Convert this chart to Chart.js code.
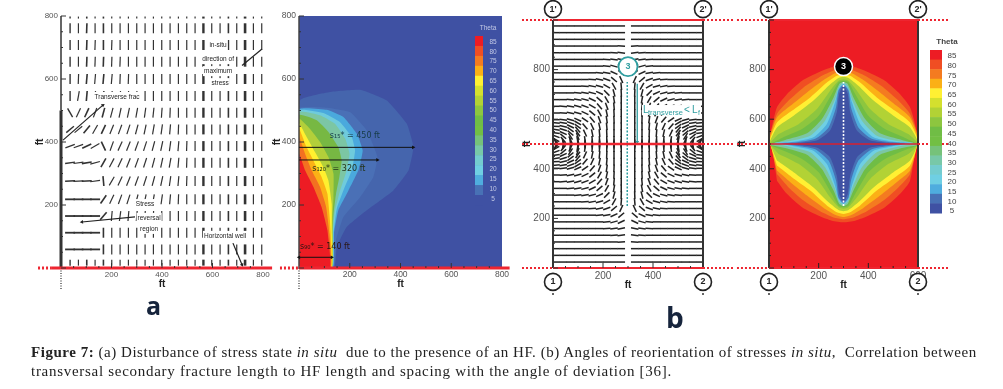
<!DOCTYPE html>
<html>
<head>
<meta charset="utf-8">
<title>Figure 7</title>
<script src="https://cdn.jsdelivr.net/npm/chart.js@4"></script>
<style>
  html, body { margin: 0; padding: 0; background: #fff; }
  body { width: 1003px; height: 389px; position: relative; overflow: hidden; }
  canvas { position: absolute; left: 0; top: 0; filter: blur(0.45px); }
  .tag { position: absolute; font: bold 25px "Open Sans", sans-serif; color: #16243c; filter: blur(0.4px); }
  .cap { position: absolute; left: 31px; white-space: nowrap; font: 15px "Liberation Serif", serif; color: #222; }
</style>
</head>
<body>
<canvas id="panelA" width="1003" height="389"></canvas>
<canvas id="panelB" width="1003" height="389"></canvas>
<canvas id="panelC" width="1003" height="389"></canvas>
<canvas id="panelD" width="1003" height="389"></canvas>
<div class="tag" style="left:146px;top:288px">a</div>
<div class="tag" style="left:666px;top:298px;font-size:28px">b</div>
<div class="cap" style="top:344px;letter-spacing:.53px"><b>Figure 7:</b> (a) Disturbance of stress state <i>in situ</i>&nbsp; due to the presence of an HF. (b) Angles of reorientation of stresses <i>in situ</i>,&nbsp; Correlation between</div>
<div class="cap" style="top:363px;letter-spacing:.71px">transversal secondary fracture length to HF length and spacing with the angle of deviation [36].</div>

<script>
// ---------- DATA ----------
const thetaLabels = [85,80,75,70,65,60,55,50,45,40,35,30,25,20,15,10,5];
const thetaColors = ["#ed1c24","#f04e23","#f47b20","#fbb016","#fff033","#d4e02e","#b2d235","#8dc63f","#70bd45","#72bf44","#76c27a","#78c8a8","#74cccf","#6fcfe3","#4fadde","#4871b5","#3f51a3"];

const ticksAB = [200,400,600,800];
const xTicksC = [200,400];
const xTicksD = [200,400,600];

// panel a: stress direction field, degrees from horizontal, omitted tail = vertical
const fieldColsA = [36,69,102,135,168,201,234,267,300,333,366,399,432,465,498,531,564,597,630,663,696,729,762,795];
const fieldRowsA = [795,761,708,655,600,546,493,440,387,334,276,218,165,112,59,17];
const fieldAnglesA = [
  [],
  [90,90,88],
  [90,90,88,88,90,88],
  [90,90,88,88,88,88,88],
  [90,88,85,85,85,85,88,88],
  [90,80,85,85,85,85,85,88,88],
  [120,65,65,70,75,75,78,78,80,82,84,86,88],
  [40,40,50,60,65,68,70,72,75,78,80,82,85,88],
  [20,20,25,30,115,70,65,68,70,72,75,78,82,85,88],
  [8,8,10,15,60,62,65,68,70,72,75,78,80,85,88],
  [3,3,3,8,95,60,65,68,70,72,75,78,82,85,88],
  [0,0,0,0,55,65,70,72,75,78,80,82,85,88],
  [0,0,0,0,50,85,82,85,85,88,88],
  [0,0,0,0,90],
  [0,0,0,0,90],
  []
];
const fieldRadiusA = [1,5,5,5,5,5,5,5,5,5,5,5,5,5,5,3];
const fieldWidthA = [1.4,1.2,1.6,1.2,1.6,1.2,1.2,1.2,1.2,1.2,1.2,1.2,1.2,1.2,1.2,1.2,2.4,1.2,1.2,1.6,1.2,2.6,1.2,1.2];

// panel b: contour outlines for the fracture at the left edge, outer to inner
const contoursB = [
  { color:"#4565ad", xs:[0,4,122,241,346,425,451,432,372,267,188,149,138,0], ys:[0,532,559,566,532,458,384,310,246,183,130,67,0,0] },
  { color:"#4a70b6", xs:[0,0,109,201,267,309,293,241,175,146,136,0], ys:[0,506,509,495,437,352,289,225,162,88,0,0] },
  { color:"#4aa9dd", xs:[0,0,109,175,228,251,234,195,155,138,133,0], ys:[0,503,502,479,426,373,310,246,183,109,0,0] },
  { color:"#6fcbdc", xs:[0,0,96,162,208,221,208,178,149,136,132,0], ys:[0,500,492,463,416,373,310,252,188,109,0,0] },
  { color:"#7cc6a4", xs:[0,0,83,142,182,199,186,162,142,133,131,0], ys:[0,495,485,458,411,363,305,246,183,109,0,0] },
  { color:"#77b843", xs:[0,0,70,116,155,168,159,146,136,130,129,0], ys:[0,485,469,432,384,342,289,236,172,88,0,0] },
  { color:"#b3cf3a", xs:[0,0,43,83,116,136,136,132,129,0], ys:[0,474,442,400,352,299,225,162,0,0] },
  { color:"#fff02f", xs:[0,0,30,63,96,116,129,129,128,0], ys:[0,458,416,368,320,278,204,109,0,0] },
  { color:"#fbb216", xs:[0,0,30,63,89,112,122,126,0], ys:[0,442,384,331,289,236,151,0,0] },
  { color:"#f37021", xs:[0,0,24,50,83,107,120,125,0], ys:[0,416,363,310,257,194,109,0,0] },
  { color:"#ed1c24", xs:[0,0,24,57,89,112,122,0], ys:[0,363,310,257,194,120,0,0] }
];

// panel c: upper left quarter of the field, degrees below horizontal; picture is symmetric
const fieldColsC = [12,41,70,99,128,157,186,215,244,273];
const fieldRowsC = [976,949,922,895,868,841,814,787,760,733,706,679,652,625,598,571,544,517,503];
const fieldAnglesC = [
  [0,0,0,0,0,0,0,0,0,0],
  [0,0,0,0,0,0,0,0,0,0],
  [0,0,0,0,0,0,0,0,0,0],
  [0,0,0,0,0,0,0,0,0,3],
  [0,0,0,0,0,0,0,0,3,6],
  [0,0,0,0,0,0,0,3,8,12],
  [0,0,0,0,0,0,0,5,15,25],
  [0,0,0,0,0,0,5,10,25,40],
  [0,0,0,0,0,5,10,20,40,65],
  [0,0,0,0,5,10,15,30,60,85],
  [0,0,0,5,10,15,25,45,75,88],
  [0,0,5,10,15,25,40,60,80,90],
  [0,5,10,15,20,30,50,70,85,90],
  [0,5,10,15,25,40,60,78,88,90],
  [0,8,15,25,35,50,70,82,88,90],
  [3,12,25,35,50,65,78,85,90,90],
  [8,25,40,55,65,78,85,88,90,90],
  [30,50,65,75,82,85,88,90,90,90],
  [70,80,85,88,90,90,90,90,90,90]
];
// the fan at the side walls is denser than the main grid
const fanRowsC = [585,558,531,510];
const fanAnglesC = [[5,10,20,30],[8,18,35,50],[20,40,58,70],[55,72,82,86]];

// panel d: upper left quarter of each contour, outer to inner
const contoursD = [
  { color:"#f04e23", xs:[5,32,72,133,200,253,300], ys:[540,648,701,755,789,809,816] },
  { color:"#f47b20", xs:[1,32,79,139,206,260,300], ys:[527,621,675,728,771,796,803] },
  { color:"#fbb016", xs:[1,32,86,153,220,266,300], ys:[520,607,654,708,758,785,794] },
  { color:"#fff033", xs:[1,32,92,166,233,273,300], ys:[513,587,634,688,748,775,782] },
  { color:"#b2d235", xs:[1,32,99,179,240,280,300], ys:[507,567,614,675,735,766,771] },
  { color:"#8dc63f", xs:[1,39,119,193,246,280,300], ys:[500,540,580,641,715,755,761] },
  { color:"#70bd45", xs:[1,52,133,200,253,280,300], ys:[497,524,560,614,702,749,755] },
  { color:"#7cc6a4", xs:[1,65,153,213,260,283,300], ys:[497,516,543,601,688,742,750] },
  { color:"#6fcfe3", xs:[19,86,166,226,264,283,300], ys:[504,512,533,594,675,731,745] },
  { color:"#4fadde", xs:[32,106,179,233,266,280,300], ys:[504,510,527,581,668,722,742] },
  { color:"#4871b5", xs:[52,119,186,240,270,280,300], ys:[502,508,521,567,648,715,739] },
  { color:"#3f51a3", xs:[79,133,197,246,273,283,300], ys:[501,505,516,554,628,702,735] }
];

const nodeXs = [0,600,0,600];
const nodeYs = [1044,1044,-56,-56];
const nodeLabels = ["1'","2'","1","2"];

// ---------- HELPERS ----------
const RED = "#ee2530";

function line(xs, ys, color, width, extra) {
  return Object.assign({
    data: xs.map((x, i) => ({ x, y: ys[i] })),
    showLine: true, borderColor: color, borderWidth: width,
    pointRadius: 0, clip: false, fill: false
  }, extra);
}

function arrow(x0, x1, y0, y1, color, width, atStart) {
  const deg = Math.atan2(-(y1 - y0), x1 - x0) * 180 / Math.PI;
  return line([x0, x1], [y0, y1], color, width, {
    pointStyle: "triangle",
    pointRadius: [atStart ? 2.2 : 0, 2.2],
    pointRotation: [deg - 90, deg + 90],
    pointBackgroundColor: color, pointBorderColor: color, pointBorderWidth: 0
  });
}

function area(xs, ys, color, tension) {
  return {
    data: xs.map((x, i) => ({ x, y: ys[i] })),
    showLine: true, fill: "shape", backgroundColor: color,
    borderWidth: 0, borderColor: color, pointRadius: 0, tension: tension
  };
}

// whole star from one quarter of it
function starFromQuarter(q) {
  const xs = [], ys = [];
  const n = q.xs.length;
  for (let i = 0; i < n; i++) { xs.push(q.xs[i]); ys.push(q.ys[i]); }
  for (let i = n - 2; i >= 0; i--) { xs.push(600 - q.xs[i]); ys.push(q.ys[i]); }
  for (let i = 1; i < n; i++) { xs.push(600 - q.xs[i]); ys.push(1000 - q.ys[i]); }
  for (let i = n - 2; i > 0; i--) { xs.push(q.xs[i]); ys.push(1000 - q.ys[i]); }
  return { xs, ys };
}

function fieldA() {
  const data = [], rot = [], rad = [], wid = [];
  fieldRowsA.forEach((y, r) => {
    fieldColsA.forEach((x, c) => {
      const a = fieldAnglesA[r][c];
      data.push({ x, y });
      rot.push(-(a === undefined ? 90 : a));
      rad.push(fieldRadiusA[r]);
      wid.push(a === 0 ? 1.8 : fieldWidthA[c]);
    });
  });
  return {
    data, showLine: false, pointStyle: "line", pointRotation: rot, pointRadius: rad,
    pointBorderWidth: wid, pointBorderColor: "#333", clip: false
  };
}

function fieldC() {
  const data = [], rot = [];
  const add = (rows, angles) => rows.forEach((y, r) => {
    angles[r].forEach((a, c) => {
      const x = fieldColsC[c];
      data.push({ x, y }); rot.push(a);
      data.push({ x: 600 - x, y }); rot.push(-a);
      data.push({ x, y: 1000 - y }); rot.push(-a);
      data.push({ x: 600 - x, y: 1000 - y }); rot.push(a);
    });
  });
  add(fieldRowsC, fieldAnglesC);
  add(fanRowsC, fanAnglesC);
  return {
    data, showLine: false, pointStyle: "line", pointRotation: rot, pointRadius: 3.8,
    pointBorderWidth: 1.5, pointBorderColor: "#222", clip: false
  };
}

const redDots = { borderDash: [2, 2] };

// numbered circles sit outside the plot, where Chart.js drops its points
function nodeRings() {
  const rings = nodeXs.map((x, i) => ({ x, y: nodeYs[i], r: 8.5, fill: "#fff", stroke: "#222", width: 1.6 }));
  rings.push({ x: 0, y: -105, r: 1, fill: "#333" }, { x: 600, y: -105, r: 1, fill: "#333" });
  return rings;
}
function nodeNotes() {
  return nodeXs.map((x, i) => ({ x, y: nodeYs[i], text: nodeLabels[i], font: "bold 9px 'Liberation Sans'" }));
}

// ---------- PLUGIN: inward ticks, plot colour, colour bar, rings, notes ----------
Chart.register({
  id: "panelExtras",
  beforeDatasetsDraw(chart, args, opts) {
    if (!opts.plotBg) return;
    const a = chart.chartArea;
    chart.ctx.fillStyle = opts.plotBg;
    chart.ctx.fillRect(a.left, a.top, a.width, a.height);
  },
  afterDatasetsDraw(chart, args, opts) {
    const ctx = chart.ctx, a = chart.chartArea;
    const sx = chart.scales.x, sy = chart.scales.y;
    ctx.save();

    ctx.strokeStyle = opts.tickColor || "#333";
    ctx.lineWidth = 1;
    sx.ticks.forEach(t => {
      if (t.value <= 0 || t.value >= sx.max) return;
      const len = t.value % 200 === 0 ? 5 : 2;
      const p = sx.getPixelForValue(t.value);
      ctx.beginPath(); ctx.moveTo(p, a.bottom); ctx.lineTo(p, a.bottom - len); ctx.stroke();
    });
    sy.ticks.forEach(t => {
      const len = t.value % 200 === 0 ? 5 : 2;
      const p = sy.getPixelForValue(t.value);
      ctx.beginPath(); ctx.moveTo(a.left, p); ctx.lineTo(a.left + len, p); ctx.stroke();
    });

    if (opts.bar) {
      const b = opts.bar, h = (b.bottom - b.top) / thetaColors.length;
      thetaColors.forEach((c, i) => {
        ctx.fillStyle = c;
        ctx.fillRect(b.left, b.top + i * h, b.right - b.left, h + 0.5);
      });
      ctx.textAlign = "center"; ctx.textBaseline = "middle";
      ctx.fillStyle = b.color;
      ctx.font = b.font;
      thetaLabels.forEach((v, i) => ctx.fillText(String(v), b.labelX, b.firstY + i * b.stepY));
      ctx.font = b.titleFont;
      ctx.fillText("Theta", b.titleX, b.titleY);
    }

    (opts.rings || []).forEach(r => {
      ctx.beginPath();
      ctx.arc(sx.getPixelForValue(r.x), sy.getPixelForValue(r.y), r.r, 0, Math.PI * 2);
      ctx.fillStyle = r.fill;
      ctx.fill();
      if (r.stroke) { ctx.strokeStyle = r.stroke; ctx.lineWidth = r.width; ctx.stroke(); }
    });

    (opts.notes || []).forEach(n => {
      const px = sx.getPixelForValue(n.x), py = sy.getPixelForValue(n.y);
      ctx.font = n.font;
      ctx.textAlign = n.align || "center"; ctx.textBaseline = "middle";
      if (n.bg) {
        const w = n.bgWidth || ctx.measureText(n.text).width;
        const left = n.align === "left" ? px : px - w / 2;
        ctx.fillStyle = n.bg;
        ctx.fillRect(left - 1, py - 5, w + 2, 10);
      }
      ctx.fillStyle = n.color || "#222";
      ctx.fillText(n.text, px, py);
    });
    ctx.restore();
  }
});

function panel(id, box, xMax, yMax, xTicks, yTicks, tickFont, datasets, extras) {
  const tickColor = "#555";
  const labelled = list => v => list.includes(v) ? String(v) : "";
  const painted = datasets.slice().reverse();  // first dataset is drawn last by Chart.js
  return new Chart(document.getElementById(id), {
    type: "scatter",
    data: { datasets: painted },
    options: {
      responsive: false, animation: false, events: [],
      layout: { padding: { left: box.axisLeft, top: box.top, right: 1003 - box.right, bottom: 389 - box.axisBottom } },
      plugins: { legend: { display: false }, tooltip: { enabled: false }, panelExtras: extras },
      scales: {
        x: {
          type: "linear", min: 0, max: xMax,
          grid: { display: false, drawTicks: false }, border: { display: false },
          ticks: { stepSize: 50, autoSkip: false, maxRotation: 0, padding: 2, color: tickColor, font: { size: tickFont, family: "Liberation Sans" }, callback: labelled(xTicks) },
          title: { display: true, text: "ft", color: "#222", padding: 0, font: { size: 10, weight: "bold", family: "Liberation Sans" } },
          afterFit(s) { s.height = box.axisBottom - box.bottom; }
        },
        y: {
          type: "linear", min: 0, max: yMax,
          grid: { display: false, drawTicks: false }, border: { display: false },
          ticks: { stepSize: 50, autoSkip: false, padding: 3, color: tickColor, font: { size: tickFont, family: "Liberation Sans" }, callback: labelled(yTicks) },
          title: { display: true, text: "ft", color: "#222", padding: 0, font: { size: 10, weight: "bold", family: "Liberation Sans" } },
          afterFit(s) { s.width = box.left - box.axisLeft; }
        }
      }
    }
  });
}

// ---------- PANELS ----------
const noteFont = "6.5px 'Liberation Sans'";
panel("panelA", { axisLeft: 34, left: 61, top: 16, right: 263, bottom: 268, axisBottom: 290 }, 800, 800, ticksAB, ticksAB, 8, [
  fieldA(),
  line([0, 0], [500, 800], "#666", 2),
  line([0, 0], [0, 500], "#333", 3),
  line([0, 0], [0, -70], "#555", 1.5, { borderDash: [1, 1.5] }),
  arrow(8, 166, 406, 517, "#222", 1.2),
  line([717, 796], [643, 695], "#222", 1.2),
  arrow(293, 83, 162, 146, "#222", 1.2),
  arrow(681, 717, 79, 10, "#222", 1.2),
  line([-91, -36], [0, 0], RED, 3, redDots),
  line([-36, 836], [0, 0], RED, 3)
], { notes: [
  { x: 222, y: 543, text: "Transverse frac", font: noteFont, bg: "#fff" },
  { x: 622, y: 708, text: "in-situ", font: noteFont, bg: "#fff" },
  { x: 622, y: 663, text: "direction of", font: noteFont, bg: "#fff" },
  { x: 622, y: 625, text: "maximum", font: noteFont, bg: "#fff" },
  { x: 630, y: 587, text: "stress", font: noteFont, bg: "#fff" },
  { x: 333, y: 203, text: "Stress", font: noteFont, bg: "#fff" },
  { x: 349, y: 159, text: "reversal", font: noteFont, bg: "#fff" },
  { x: 349, y: 124, text: "region", font: noteFont, bg: "#fff" },
  { x: 650, y: 102, text: "Horizontal well", font: noteFont, bg: "#fff" }
] });

const sFont = "8px 'DejaVu Sans'";
panel("panelB", { axisLeft: 271, left: 299, top: 16, right: 502, bottom: 268, axisBottom: 290 }, 800, 800, ticksAB, ticksAB, 8.5,
  contoursB.map(c => area(c.xs, c.ys, c.color, 0.12)).concat([
  line([0, 0], [0, 800], "#444", 1.5),
  line([0, 0], [0, -70], "#555", 1.5, { borderDash: [1, 1.5] }),
  arrow(0, 450, 383, 383, "#111", 1),
  arrow(0, 309, 343, 343, "#111", 1),
  arrow(0, 129, 34, 34, "#111", 1, true),
  line([-75, 0], [0, 0], RED, 3, redDots),
  line([0, 830], [0, 0], RED, 3)
]), { plotBg: "#3f51a3", notes: [
  { x: 220, y: 419, text: "s₁₅* = 450 ft", font: sFont, color: "#153b46" },
  { x: 157, y: 314, text: "s₁₂₀* = 320 ft", font: sFont, color: "#23331a" },
  { x: 102, y: 67, text: "s₉₀* = 140 ft", font: sFont, color: "#2a1512" }
], bar: { left: 475, right: 483, top: 36, bottom: 205, labelX: 493, firstY: 42, stepY: 9.8, titleX: 488, titleY: 28, color: "#c3c9e6", font: "6.5px 'Liberation Sans'", titleFont: "6.5px 'Liberation Sans'" } });

const teal = "#2f9ea0";
panel("panelC", { axisLeft: 521, left: 553, top: 20, right: 703, bottom: 268, axisBottom: 291 }, 600, 1000, xTicksC, ticksAB, 10, [
  fieldC(),
  line([297, 297], [250, 750], teal, 1.5, { borderDash: [2, 1.5] }),
  arrow(337, 337, 743, 508, teal, 1.3),
  line([0, 0], [0, 1000], "#333", 2),
  line([600, 600], [0, 1000], "#333", 2),
  line([-124, 0], [1000, 1000], RED, 2, redDots),
  line([0, 600], [1000, 1000], RED, 2),
  line([600, 720], [1000, 1000], RED, 2, redDots),
  line([-124, 0], [500, 500], RED, 2, redDots),
  line([0, 600], [500, 500], RED, 2.5),
  line([600, 720], [500, 500], RED, 2, redDots),
  line([-124, 0], [0, 0], RED, 2, redDots),
  line([0, 600], [0, 0], RED, 2),
  line([600, 720], [0, 0], RED, 2, redDots)
], {
  rings: nodeRings().concat([{ x: 300, y: 812, r: 9.5, fill: "#fff", stroke: teal, width: 1.8 }]),
  notes: nodeNotes().concat([
    { x: 300, y: 812, text: "3", font: "bold 9px 'Liberation Sans'", color: teal },
    { x: 360, y: 637, text: "L", font: "10px 'Liberation Sans'", color: teal, align: "left", bg: "#fff", bgWidth: 57 },
    { x: 380, y: 625, text: "transverse", font: "7.5px 'Liberation Sans'", color: teal, align: "left" },
    { x: 524, y: 637, text: "<", font: "10px 'Liberation Sans'", color: teal, align: "left" },
    { x: 556, y: 637, text: "L", font: "10px 'Liberation Sans'", color: teal, align: "left" },
    { x: 580, y: 625, text: "f", font: "7px 'Liberation Sans'", color: teal, align: "left" }
  ])
});

const starsD = contoursD.map(starFromQuarter);
panel("panelD", { axisLeft: 736, left: 769, top: 20, right: 918, bottom: 268, axisBottom: 291 }, 600, 1000, xTicksD, ticksAB, 10,
  starsD.map((s, i) => area(s.xs, s.ys, contoursD[i].color, 0.2)).concat([
  line([300, 300], [250, 750], "#fff", 1.6, { borderDash: [2, 1.5] }),
  line([0, 0], [0, 1000], "#333", 2),
  line([600, 600], [0, 1000], "#333", 2),
  line([-129, 0], [1000, 1000], RED, 2, redDots),
  line([0, 600], [1000, 1000], RED, 2),
  line([600, 721], [1000, 1000], RED, 2, redDots),
  line([-129, 0], [500, 500], RED, 2, redDots),
  line([0, 600], [500, 500], "#d8202f", 1.5),
  line([600, 721], [500, 500], RED, 2, redDots),
  line([-129, 0], [0, 0], RED, 2, redDots),
  line([0, 600], [0, 0], RED, 2),
  line([600, 721], [0, 0], RED, 2, redDots)
]), { plotBg: "#ed1c24", tickColor: "#222",
  rings: nodeRings().concat([{ x: 300, y: 812, r: 9, fill: "#000", stroke: "#fff", width: 1.5 }]),
  notes: nodeNotes().concat([
    { x: 300, y: 812, text: "3", font: "bold 9px 'Liberation Sans'", color: "#fff" }
  ]),
  bar: { left: 930, right: 942, top: 50, bottom: 213, labelX: 952, firstY: 56, stepY: 9.7, titleX: 947, titleY: 42, color: "#444", font: "8px 'Liberation Sans'", titleFont: "bold 8px 'Liberation Sans'" }
});
</script>
</body>
</html>
